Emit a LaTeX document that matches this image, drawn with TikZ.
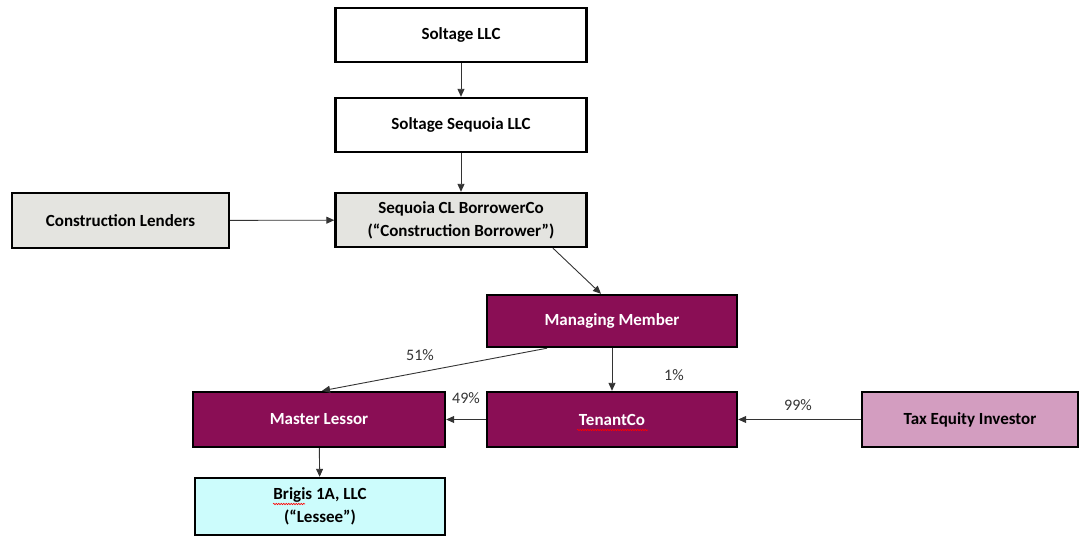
\documentclass[tikz,border=0pt]{standalone}
\usepackage{fontspec}
\setmainfont{Carlito}
\usetikzlibrary{arrows.meta,decorations.pathmorphing}
\definecolor{boxgrey}{HTML}{E4E4E0}
\definecolor{maroon}{HTML}{8A0E55}
\definecolor{pinkbox}{HTML}{D39DC0}
\definecolor{cyanbox}{HTML}{CCFCFC}
\tikzset{
  box/.style={draw=black, line width=2.4pt, align=center, font=\fontsize{17}{23}\selectfont\bfseries, inner sep=0pt},
  whitebox/.style={box, fill=white},
  greybox/.style={box, fill=boxgrey},
  maroonbox/.style={box, fill=maroon, text=white},
  pinkb/.style={box, fill=pinkbox},
  cyanb/.style={box, fill=cyanbox},
  conn/.style={draw=black!80, line width=0.9pt, -{Triangle[length=8pt,width=7pt]}},
  pct/.style={font=\fontsize{16}{18}\selectfont, text=black!80},
  spell/.style={draw=red, line width=0.6pt, decorate, decoration={snake, amplitude=0.7pt, segment length=2.5pt}}
}
\begin{document}
\begin{tikzpicture}[x=1pt,y=-1pt]
\useasboundingbox (0,0) rectangle (1080,538);
\node[whitebox, minimum width=251pt, minimum height=54pt] (sl) at (461,35) {Soltage LLC};
\node[whitebox, minimum width=251pt, minimum height=54pt] (ss) at (461,125) {Soltage Sequoia LLC};
\node[greybox, minimum width=251pt, minimum height=54pt] (cb) at (461,220) {Sequoia CL BorrowerCo\\(“Construction Borrower”)};
\node[greybox, minimum width=217pt, minimum height=55pt] (cl) at (120.5,220.5) {Construction Lenders};
\node[maroonbox, minimum width=250pt, minimum height=52pt] (mm) at (612,321) {Managing Member};
\node[maroonbox, minimum width=252pt, minimum height=55pt] (ml) at (319,419.5) {Master Lessor};
\node[maroonbox, minimum width=250pt, minimum height=55pt] (tc) at (612,419.5) {TenantCo};
\node[pinkb, minimum width=216pt, minimum height=55pt] (te) at (970,419.5) {Tax Equity Investor};
\node[cyanb, minimum width=250pt, minimum height=57pt] (br) at (320,506.5) {Brigis 1A, LLC\\(“Lessee”)};

\draw[conn] (sl) -- (ss);
\draw[conn] (ss) -- (cb);
\draw[conn] (cl) -- (cb);
\draw[conn] ([xshift=92pt]cb.south) -- ([xshift=-11pt]mm.north);
\draw[conn] (mm) -- (tc);
\draw[conn] ([xshift=-65pt]mm.south) -- ([xshift=3pt]ml.north);
\draw[conn] (tc) -- (ml);
\draw[conn] (te) -- (tc);
\draw[conn] (ml) -- (br);

\node[pct] (p51) at (420,355) {51\%};
\node[pct] (p1) at (674,375) {1\%};
\node[pct] (p49) at (466,398) {49\%};
\node[pct] (p99) at (798,405) {99\%};

\coordinate (t1) at (577,430);
\coordinate (t2) at (648,430);
\draw[spell] (t1) -- (t2);
\coordinate (b1) at (273,504);
\coordinate (b2) at (305,504);
\draw[spell] (b1) -- (b2);
\end{tikzpicture}
\end{document}
